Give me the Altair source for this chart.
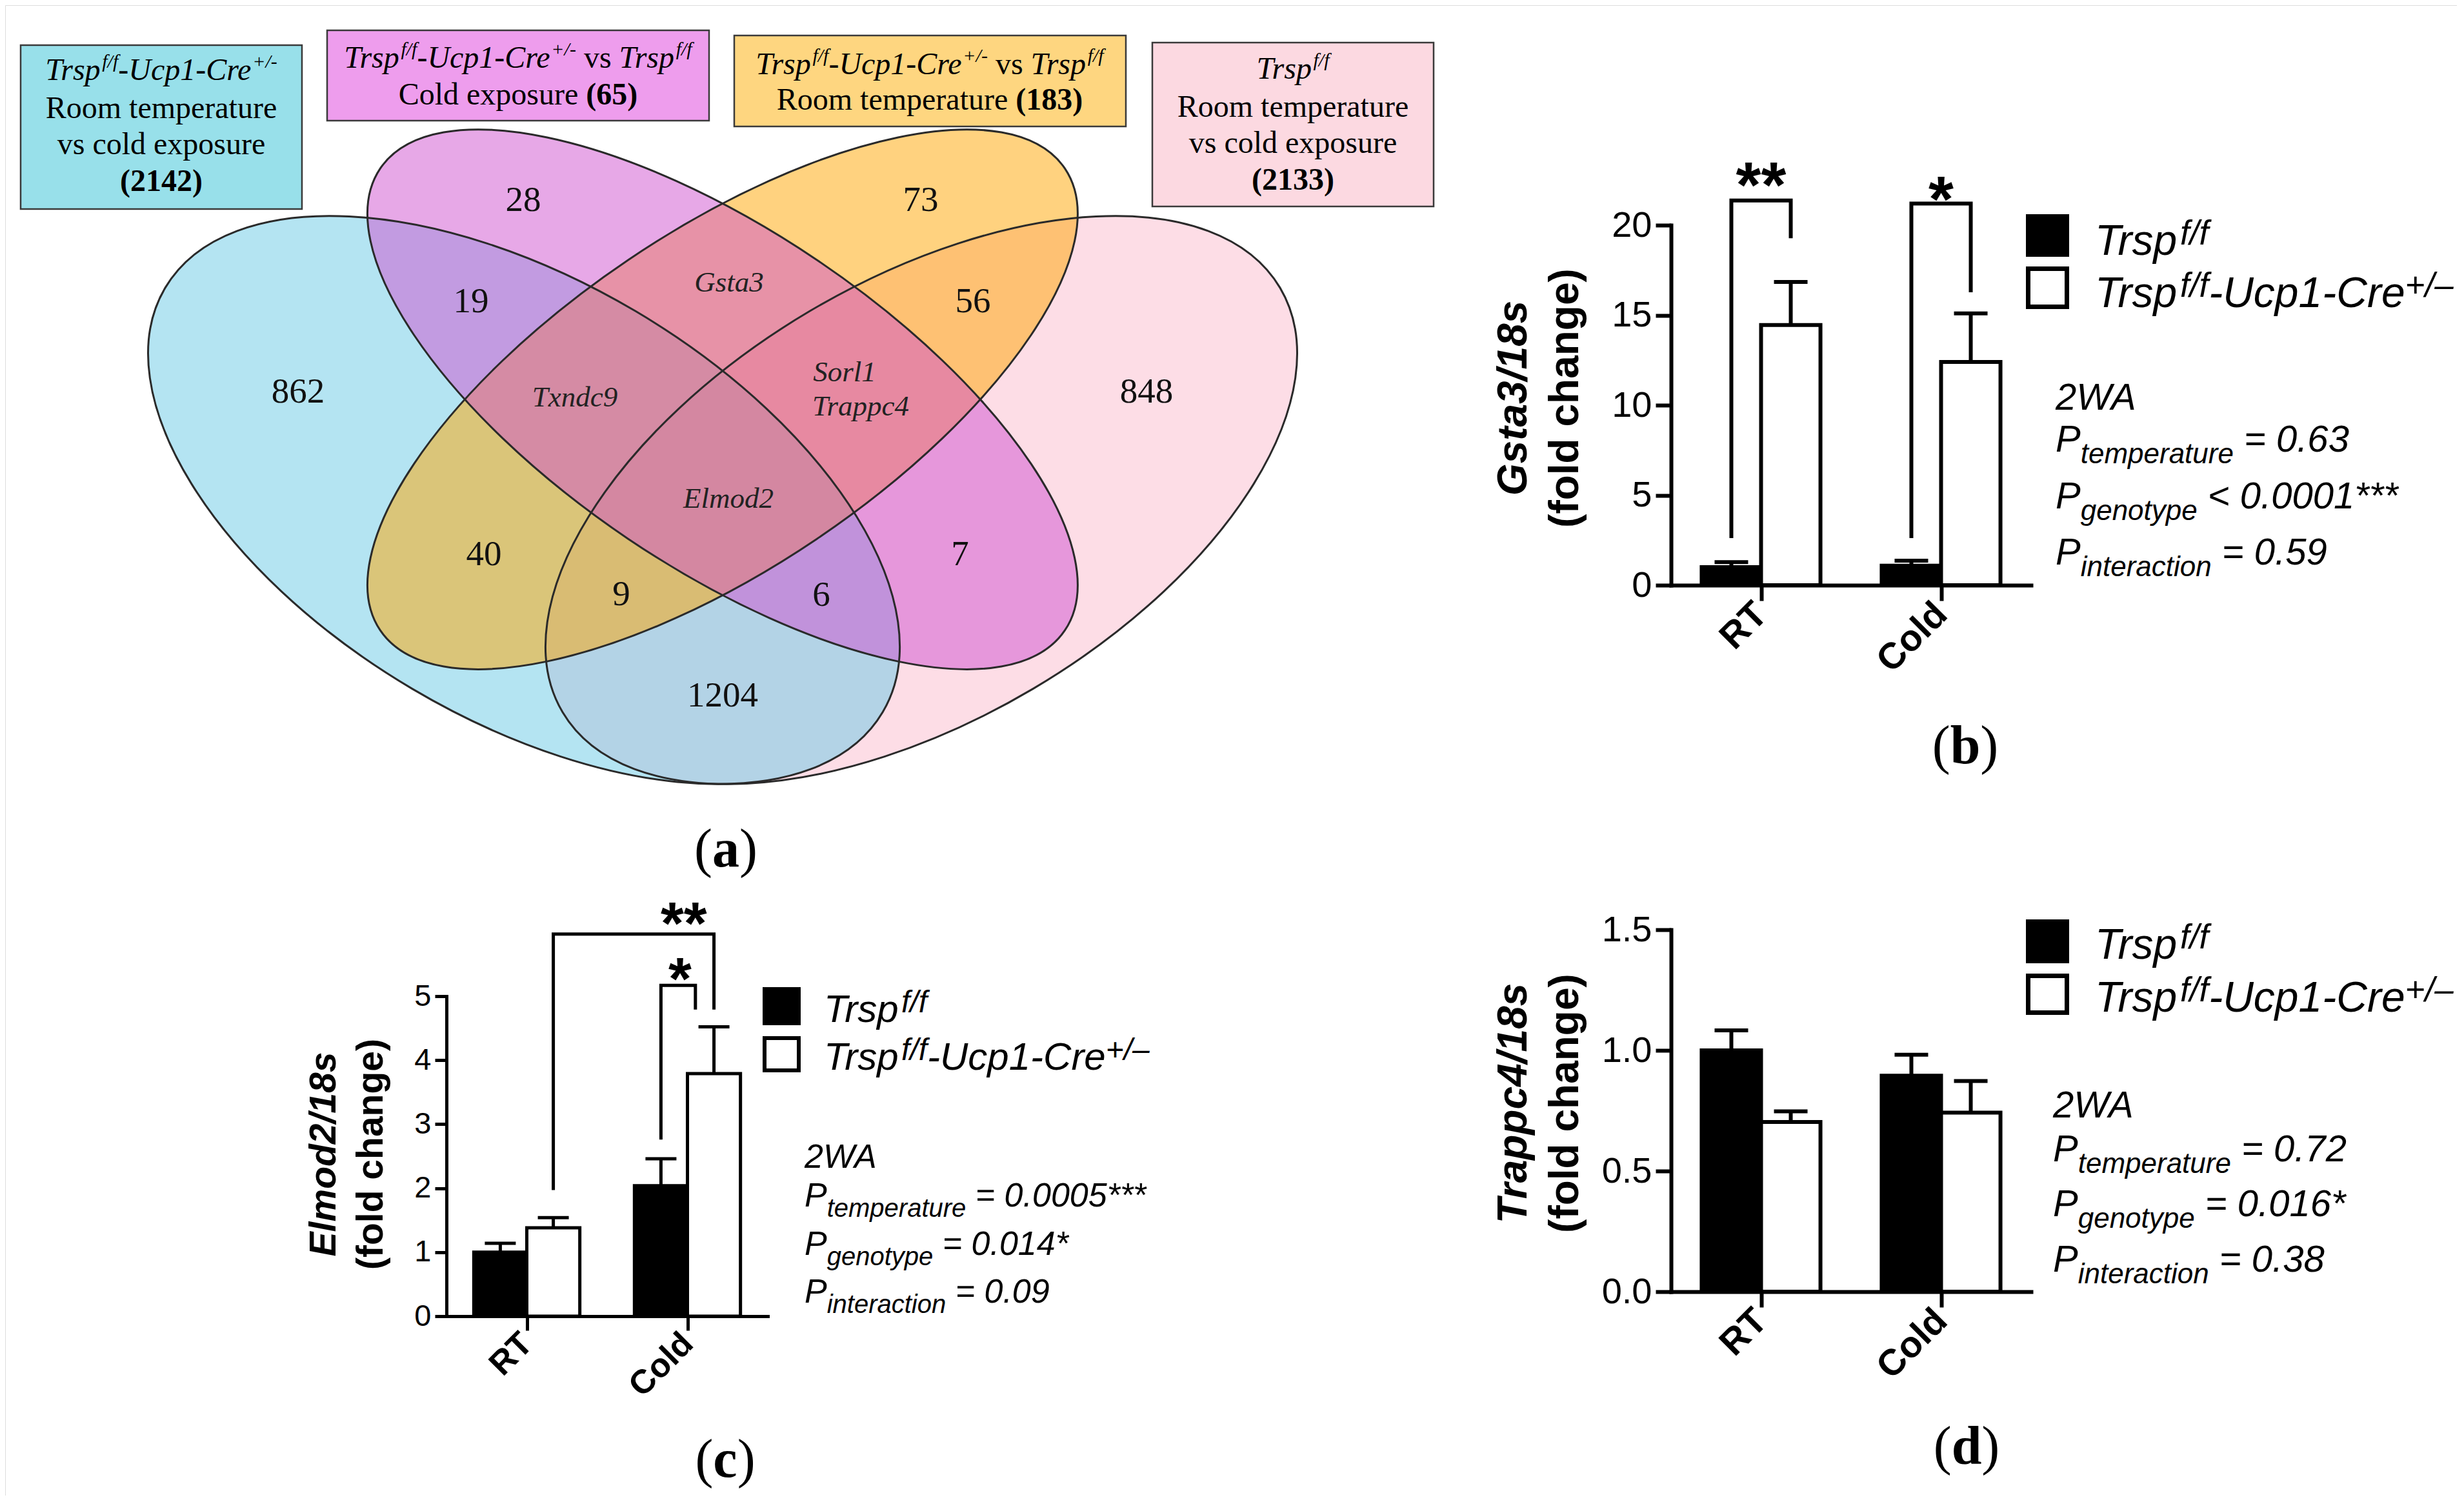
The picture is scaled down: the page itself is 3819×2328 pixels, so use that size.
import altair as alt
import pandas as pd

W, H = 3800, 2310
SH = 8  # page margin: reference pixel -> chart pixel
SANS = "Liberation Sans"
SERIF = "Liberation Serif"

# ---------------- data ----------------
groups = ["RT", "Cold"]
genotypes = ["Trsp f/f", "Trsp f/f-Ucp1-Cre +/-"]

gsta3_mean = [1.00, 14.45, 1.08, 12.40]      # RT-Trsp, RT-Cre, Cold-Trsp, Cold-Cre
gsta3_sem = [0.28, 2.40, 0.28, 2.70]
elmod2_mean = [1.00, 1.38, 2.04, 3.79]
elmod2_sem = [0.14, 0.16, 0.42, 0.73]
trappc4_mean = [1.000, 0.703, 0.895, 0.742]
trappc4_sem = [0.083, 0.044, 0.087, 0.131]

gsta3_brackets = dict(lg=[0, 1], ls=[-0.5, -0.5], lf=[2.62, 2.62],
                      rg=[0, 1], rs=[0.5, 0.5], rf=[19.27, 16.27],
                      top=[21.37, 21.2], stars=["**", "*"],
                      sg=[0, 1], ss=[0.0, 0.0], sb=[21.02, 20.2])
elmod2_brackets = dict(lg=[0, 1], ls=[0.5, -0.5], lf=[1.97, 2.76],
                       rg=[1, 1], rs=[0.5, 0.15], rf=[4.79, 4.79],
                       top=[5.97, 5.17], stars=["**", "*"],
                       sg=[1, 1], ss=[-0.07, -0.14], sb=[5.82, 4.95])
trappc4_brackets = None

venn_sets = ["pink", "cyan", "orange", "magenta"]          # drawing order
venn_cx = [63.71, 35.56, 49.63, 49.63]
venn_cy = [61.62, 61.62, 48.44, 48.44]
venn_a = [646, 646, 640, 640]
venn_b = [340, 340, 261, 261]
venn_rot = [329.4, 30.6, 326.0, 34.0]
venn_fill = ["#fbbbcd", "#69c9e5", "#ffa500", "#d052d0"]

region_labels = ["28", "73", "19", "56", "862", "848", "40", "7", "9", "6", "1204"]
region_x = [35.51, 63.67, 31.81, 67.37, 19.56, 79.66, 32.72, 66.45, 42.46, 56.63, 49.63]
region_y = [22.32, 22.32, 35.59, 35.59, 47.42, 47.42, 68.72, 68.72, 73.96, 74.05, 87.24]
gene_labels = ["Gsta3", "Txndc9", "Sorl1", "Trappc4", "Elmod2"]
gene_x = [50.09, 39.17, 58.27, 59.41, 50.05]
gene_y = [33.14, 48.18, 44.89, 49.37, 61.45]

# ---------------- font metrics (Arial / Times compatible) ----------------
AR = {c: 556 for c in "0123456789"}
AR.update({' ': 278, '.': 278, '=': 584, '<': 584, '+': 584, '-': 333, '–': 556, '/': 278, '*': 389,
           'A': 667, 'C': 722, 'P': 667, 'T': 611, 'U': 722, 'W': 944,
           'a': 556, 'c': 500, 'e': 556, 'f': 278, 'g': 556, 'i': 222, 'm': 833, 'n': 556,
           'o': 556, 'p': 556, 'r': 333, 's': 500, 't': 278, 'u': 556, 'y': 500})
TM = {c: 500 for c in "0123456789"}
TM.update({' ': 250, '(': 333, ')': 333, 'R': 667, 'C': 667, 'o': 500, 'm': 778, 't': 278, 'e': 444,
           'p': 500, 'r': 333, 'a': 444, 'u': 500, 'v': 500, 's': 389, 'c': 444, 'l': 278, 'd': 500, 'x': 500})
TM_I = {' ': 250, 'T': 556, 'r': 389, 's': 389, 'p': 500, 'f': 278, '/': 278, '-': 333, 'U': 722,
        'c': 444, '1': 500, 'C': 667, 'e': 444, '+': 675}
TM_B = {c: 500 for c in "0123456789"}
TM_B.update({' ': 250, '(': 333, ')': 333, 'a': 500, 'b': 556, 'c': 444, 'd': 556})


def table_for(s):
    if s["fam"] == SANS:
        return AR
    if s["weight"] == "bold":
        return TM_B
    if s["style"] == "italic":
        return TM_I
    return TM


def seg(text, size, style="normal", weight="normal", fam=SANS, rise=0.0):
    return dict(text=text, size=size, style=style, weight=weight, fam=fam, rise=rise)


def place(segs, x, y, anchor="left"):
    items = []
    for s in segs:
        tab = table_for(s)
        txt = s["text"]
        core = txt.strip(" ")
        lead = len(txt) - len(txt.lstrip(" "))
        trail = len(txt) - len(txt.rstrip(" "))
        sp = tab.get(' ', 250) * s["size"] / 1000
        w = sum(tab.get(ch, 500) for ch in core) * s["size"] / 1000
        items.append((s, lead * sp, w, trail * sp, core))
    total = sum(a + b + c for _, a, b, c, _ in items)
    cx = x - total / 2 if anchor == "center" else x
    rows = []
    for s, a, b, c, core in items:
        cx += a
        if core:
            rows.append(dict(px=cx - SH, py=y - s["rise"] - SH, t=core, fs=s["size"],
                             fam=s["fam"], sty=s["style"], wt=s["weight"]))
        cx += b + c
    return rows


def text_layers(rows):
    df = pd.DataFrame(rows)
    out = []
    for (fam, sty, wt), sub in df.groupby(["fam", "sty", "wt"]):
        out.append(alt.Chart(sub.reset_index(drop=True)).mark_text(
            align="left", baseline="alphabetic", font=fam, fontStyle=sty, fontWeight=wt, color="black"
        ).encode(x=alt.X("px:Q", scale=None), y=alt.Y("py:Q", scale=None),
                 text="t:N", size=alt.Size("fs:Q", scale=None)))
    return out


def rect_layer(rows):
    df = pd.DataFrame(rows)
    return alt.Chart(df).mark_rect().encode(
        x=alt.X("x0:Q", scale=None), x2="x1:Q", y=alt.Y("y0:Q", scale=None), y2="y1:Q",
        fill=alt.Fill("fill:N", scale=None), stroke=alt.Stroke("stroke:N", scale=None),
        strokeWidth=alt.StrokeWidth("sw:Q", scale=None))


# ---------------- Venn diagram (a) ----------------
vx = alt.Scale(domain=[0, 100], range=[34 - SH, 2222 - SH], nice=False, zero=False)
vy = alt.Scale(domain=[0, 100], range=[46 - SH, 1229 - SH], nice=False, zero=False)
K = 0.5523


def ellipse_path(r):
    return (f"M 1 0 C 1 {K*r:.4f} {K:.4f} {r:.4f} 0 {r:.4f} C {-K:.4f} {r:.4f} -1 {K*r:.4f} -1 0 "
            f"C -1 {-K*r:.4f} {-K:.4f} {-r:.4f} 0 {-r:.4f} C {K:.4f} {-r:.4f} 1 {-K*r:.4f} 1 0 Z")


ell = pd.DataFrame(dict(
    name=venn_sets, cx=venn_cx, cy=venn_cy,
    shape=[ellipse_path(b / a) for a, b in zip(venn_a, venn_b)],
    size=[(2 * a) ** 2 for a in venn_a], rot=venn_rot, col=venn_fill))

ell_enc = dict(x=alt.X("cx:Q", scale=vx, axis=None), y=alt.Y("cy:Q", scale=vy, axis=None),
               shape=alt.Shape("shape:N", scale=None), size=alt.Size("size:Q", scale=None),
               angle=alt.Angle("rot:Q", scale=None))
ell_fill = alt.Chart(ell).mark_point(filled=True, opacity=1, fillOpacity=0.5, strokeWidth=0).encode(
    fill=alt.Fill("col:N", scale=None), **ell_enc)
ell_line = alt.Chart(ell).mark_point(filled=False, opacity=1, stroke="#2a2a2a", strokeWidth=3).encode(**ell_enc)

reg = pd.DataFrame(dict(t=region_labels, x=region_x, y=region_y))
reg_layer = alt.Chart(reg).mark_text(font=SERIF, fontSize=55, align="center", baseline="middle",
                                     color="#111").encode(
    x=alt.X("x:Q", scale=vx, axis=None), y=alt.Y("y:Q", scale=vy, axis=None), text="t:N")
gen = pd.DataFrame(dict(t=gene_labels, x=gene_x, y=gene_y))
gen_layer = alt.Chart(gen).mark_text(font=SERIF, fontSize=45, fontStyle="italic", align="center",
                                     baseline="middle", color="#222").encode(
    x=alt.X("x:Q", scale=vx, axis=None), y=alt.Y("y:Q", scale=vy, axis=None), text="t:N")

boxes = rect_layer([
    dict(x0=32 - SH, x1=468 - SH, y0=70 - SH, y1=324 - SH, fill="#98e0ea", stroke="#3a3a3a", sw=2.5),
    dict(x0=507 - SH, x1=1099 - SH, y0=47 - SH, y1=187 - SH, fill="#ee9ded", stroke="#3a3a3a", sw=2.5),
    dict(x0=1138 - SH, x1=1745 - SH, y0=55 - SH, y1=196 - SH, fill="#fed680", stroke="#3a3a3a", sw=2.5),
    dict(x0=1786 - SH, x1=2222 - SH, y0=66 - SH, y1=320 - SH, fill="#fcd9e1", stroke="#3a3a3a", sw=2.5),
])

BF = 48
SUP = dict(style="italic", fam=SERIF, rise=19)


def trsp_cre(extra=None):
    s = [seg("Trsp", BF, "italic", fam=SERIF), seg("f/f", 30, **SUP),
         seg("-Ucp1-Cre", BF, "italic", fam=SERIF), seg("+/-", 30, **SUP)]
    if extra:
        s += [seg(" vs ", BF, fam=SERIF), seg("Trsp", BF, "italic", fam=SERIF), seg("f/f", 30, **SUP)]
    return s


box_rows = []
box_rows += place(trsp_cre(), 250, 124, "center")
box_rows += place([seg("Room temperature", BF, fam=SERIF)], 250, 183, "center")
box_rows += place([seg("vs cold exposure", BF, fam=SERIF)], 250, 239, "center")
box_rows += place([seg("(2142)", BF, weight="bold", fam=SERIF)], 250, 296, "center")
box_rows += place(trsp_cre(True), 803, 105, "center")
box_rows += place([seg("Cold exposure ", BF, fam=SERIF), seg("(65)", BF, weight="bold", fam=SERIF)], 803, 162, "center")
box_rows += place(trsp_cre(True), 1441, 115, "center")
box_rows += place([seg("Room temperature ", BF, fam=SERIF), seg("(183)", BF, weight="bold", fam=SERIF)], 1441, 170, "center")
box_rows += place([seg("Trsp", BF, "italic", fam=SERIF), seg("f/f", 30, **SUP)], 2004, 122, "center")
box_rows += place([seg("Room temperature", BF, fam=SERIF)], 2004, 181, "center")
box_rows += place([seg("vs cold exposure", BF, fam=SERIF)], 2004, 237, "center")
box_rows += place([seg("(2133)", BF, weight="bold", fam=SERIF)], 2004, 294, "center")

# ---------------- bar panels ----------------
BARW = 0.33


def bar_panel(means, sems, brk, g):
    xs = alt.Scale(domain=[0, 2], range=[g["xr"][0] - SH, g["xr"][1] - SH], nice=False, zero=False)
    ys = alt.Scale(domain=list(g["ydom"]), range=[g["yr"][0] - SH, g["yr"][1] - SH], nice=False, zero=False)
    label_expr = f"datum.value < 1 ? '{groups[0]}' : '{groups[1]}'"
    xa = alt.Axis(orient="bottom", offset=(g["yr"][0] - SH) - H, values=[0.5, 1.5], labelExpr=label_expr,
                  title=None, grid=False, domainColor="black", domainWidth=g["dw"], domainCap="square",
                  tickColor="black", tickWidth=g["dw"], tickSize=g["xts"], labelFont=SANS,
                  labelFontWeight="bold", labelFontSize=g["xlab"], labelColor="black", labelAngle=315,
                  labelAlign="right", labelBaseline="middle", labelPadding=g["xpad"],
                  labelFlush=False, labelOverlap=False, labelBound=False)
    ya = alt.Axis(orient="left", offset=-(g["xr"][0] - SH), values=g["yvals"], format=g["yfmt"],
                  title=None, grid=False, domainColor="black", domainWidth=g["dw"], domainCap="square",
                  tickColor="black", tickWidth=g["dw"], tickSize=g["yts"], labelFont=SANS,
                  labelFontSize=g["lab"], labelColor="black", labelPadding=6,
                  labelFlush=False, labelOverlap=False, labelBound=False)
    rows = []
    for gi, grp in enumerate(groups):
        for bi, gt in enumerate(genotypes):
            k = gi * 2 + bi
            c = gi + 0.5 + (bi - 0.5) * BARW
            rows.append(dict(grp=grp, geno=gt, mean=means[k], top=means[k] + sems[k],
                             xc=c, x0=c - BARW / 2, x1=c + BARW / 2))
    df = pd.DataFrame(rows)
    X = lambda f: alt.X(f, scale=xs, axis=xa)
    Y = lambda f: alt.Y(f, scale=ys, axis=ya)
    bars = alt.Chart(df).mark_bar(stroke="black", strokeWidth=g["dw"]).encode(
        x=X("x0:Q"), x2="x1:Q", y=Y("mean:Q"), y2=alt.datum(0),
        fill=alt.Fill("geno:N", scale=alt.Scale(domain=genotypes, range=["black", "white"]), legend=None))
    errs = alt.Chart(df).mark_rule(color="black", strokeWidth=g["dw"]).encode(
        x=X("xc:Q"), y=Y("mean:Q"), y2="top:Q")
    caps = alt.Chart(df).mark_tick(color="black", orient="horizontal", size=g["cap"],
                                   thickness=g["dw"], opacity=1).encode(x=X("xc:Q"), y=Y("top:Q"))
    layers = [bars, errs, caps]
    if brk:
        pts, stars = [], []
        for i in range(len(brk["top"])):
            xl = brk["lg"][i] + 0.5 + brk["ls"][i] * BARW
            xr = brk["rg"][i] + 0.5 + brk["rs"][i] * BARW
            for o, (bx, by) in enumerate([(xl, brk["lf"][i]), (xl, brk["top"][i]),
                                           (xr, brk["top"][i]), (xr, brk["rf"][i])]):
                pts.append(dict(bid=i, o=o, bx=bx, by=by))
            stars.append(dict(t=brk["stars"][i], sx=brk["sg"][i] + 0.5 + brk["ss"][i] * BARW, sy=brk["sb"][i]))
        layers.append(alt.Chart(pd.DataFrame(pts)).mark_line(
            color="black", strokeWidth=g["dw"], strokeJoin="miter", strokeCap="butt").encode(
            x=X("bx:Q"), y=Y("by:Q"), detail="bid:N", order="o:Q"))
        layers.append(alt.Chart(pd.DataFrame(stars)).mark_text(
            font=SANS, fontWeight="bold", fontSize=g["star"], align="center", baseline="alphabetic",
            color="black").encode(x=X("sx:Q"), y=Y("sy:Q"), text="t:N"))
    return alt.layer(*layers)


geo_b = dict(xr=(2590, 3148), yr=(907, 349), ydom=(0, 20), yvals=[0, 5, 10, 15, 20], yfmt="d",
             lab=56, xlab=57, yts=24, xts=24, dw=6, cap=52, star=100, xpad=12)
geo_c = dict(xr=(692, 1190), yr=(2040, 1544), ydom=(0, 5), yvals=[0, 1, 2, 3, 4, 5], yfmt="d",
             lab=47, xlab=52, yts=18, xts=22, dw=5, cap=48, star=92, xpad=12)
geo_d = dict(xr=(2590, 3148), yr=(2002, 1441), ydom=(0, 1.5), yvals=[0, 0.5, 1.0, 1.5], yfmt=".1f",
             lab=56, xlab=57, yts=24, xts=24, dw=6, cap=52, star=100, xpad=12)

panel_b = bar_panel(gsta3_mean, gsta3_sem, gsta3_brackets, geo_b)
panel_c = bar_panel(elmod2_mean, elmod2_sem, elmod2_brackets, geo_c)
panel_d = bar_panel(trappc4_mean, trappc4_sem, trappc4_brackets, geo_d)

# ---------------- legends, statistics, titles ----------------
ann = []
leg_rects = []


def legend(x_sq, sq_w, black_y, white_y, x_txt, base1, base2, F, sw):
    global ann
    leg_rects.append(dict(x0=x_sq - SH, x1=x_sq + sq_w - SH, y0=black_y[0] - SH, y1=black_y[1] - SH,
                          fill="black", stroke="black", sw=0))
    leg_rects.append(dict(x0=x_sq + sw / 2 - SH, x1=x_sq + sq_w - sw / 2 - SH, y0=white_y[0] + sw / 2 - SH,
                          y1=white_y[1] - sw / 2 - SH, fill="white", stroke="black", sw=sw))
    s, r = round(F * 0.8), F * 0.25
    ann += place([seg("Trsp", F, "italic"), seg("f/f", s, "italic", rise=r)], x_txt, base1)
    ann += place([seg("Trsp", F, "italic"), seg("f/f", s, "italic", rise=r), seg("-Ucp1-Cre", F, "italic"),
                  seg("+/–", s, "italic", rise=r)], x_txt, base2)


def stats(x, bases, F, vals):
    global ann
    sub, drop = round(F * 0.76), F * 0.31
    ann += place([seg("2WA", F, "italic")], x, bases[0])
    for name, v, b in zip(["temperature", "genotype", "interaction"], vals, bases[1:]):
        ann += place([seg("P", F, "italic"), seg(name, sub, "italic", rise=-drop), seg(" " + v, F, "italic")], x, b)


legend(3140, 67, (332, 398), (413, 479), 3247, 395, 476, 66, 7)
legend(3140, 67, (1425, 1493), (1509, 1573), 3247, 1486, 1568, 66, 7)
legend(1182, 59, (1530, 1589), (1606, 1662), 1277, 1584, 1658, 60, 6)
stats(3186, [635, 700, 788, 875], 58, ["= 0.63", "< 0.0001***", "= 0.59"])
stats(3182, [1732, 1800, 1885, 1971], 58, ["= 0.72", "= 0.016*", "= 0.38"])
stats(1247, [1810, 1870, 1945, 2019], 52, ["= 0.0005***", "= 0.014*", "= 0.09"])

PF = 84
for letter, cx, cy in [("a", 1125, 1322), ("b", 3046, 1162), ("c", 1124, 2268), ("d", 3048, 2248)]:
    ann += place([seg("(", PF, fam=SERIF), seg(letter, PF, weight="bold", fam=SERIF), seg(")", PF, fam=SERIF)],
                 cx, cy + 21, "center")

ytitles = pd.DataFrame(dict(
    t=["Gsta3/18s", "(fold change)", "Elmod2/18s", "(fold change)", "Trappc4/18s", "(fold change)"],
    px=[2347 - SH, 2427 - SH, 503 - SH, 576 - SH, 2347 - SH, 2427 - SH],
    py=[617 - SH, 617 - SH, 1789 - SH, 1789 - SH, 1710 - SH, 1710 - SH],
    fs=[64, 64, 57, 57, 64, 64],
    it=["italic", "normal", "italic", "normal", "italic", "normal"]))
ytitle_layers = []
for sty in ["italic", "normal"]:
    sub = ytitles[ytitles.it == sty].reset_index(drop=True)
    ytitle_layers.append(alt.Chart(sub).mark_text(
        font=SANS, fontWeight="bold", fontStyle=sty, angle=270, align="center", baseline="middle",
        color="black").encode(x=alt.X("px:Q", scale=None), y=alt.Y("py:Q", scale=None), text="t:N",
                              size=alt.Size("fs:Q", scale=None)))

chart = alt.layer(
    boxes, *text_layers(box_rows), ell_fill, ell_line, reg_layer, gen_layer,
    panel_b, panel_c, panel_d,
    rect_layer(leg_rects), *text_layers(ann), *ytitle_layers
).resolve_scale(x="independent", y="independent", fill="independent").properties(
    width=W, height=H, autosize=alt.AutoSizeParams(type="none"), padding=0
).configure_view(stroke=None).configure(background="white")

chart.save("out.html", embed_options={"renderer": "svg", "actions": False})
